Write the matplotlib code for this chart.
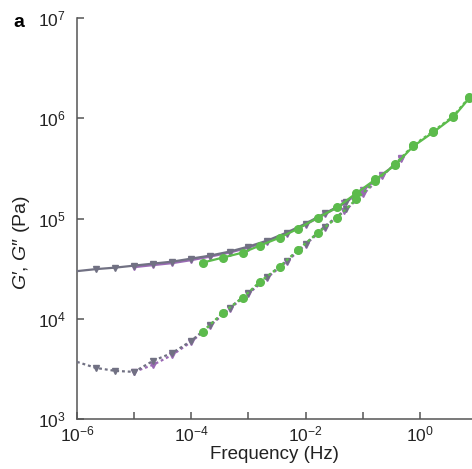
import numpy as np
import matplotlib
matplotlib.use("Agg")
import matplotlib.pyplot as plt
from matplotlib.ticker import FixedLocator, FuncFormatter, NullLocator

plt.rcParams['font.family'] = ['Liberation Sans', 'DejaVu Sans']
plt.rcParams['mathtext.fontset'] = 'custom'
plt.rcParams['mathtext.rm'] = 'Liberation Sans'
plt.rcParams['mathtext.it'] = 'Liberation Sans:italic'

# log10 of frequency (Hz) and moduli (Pa)
grey_f = [-6.0, -5.67, -5.33, -5.0, -4.67, -4.33, -4.0, -3.67, -3.33, -3.0, -2.67, -2.33, -2.0, -1.67, -1.3]
grey_g1 = [4.475, 4.495, 4.51, 4.53, 4.55, 4.57, 4.60, 4.63, 4.67, 4.72, 4.78, 4.86, 4.95, 5.05, 5.16]
grey_g2 = [3.57, 3.51, 3.48, 3.47, 3.58, 3.66, 3.78, 3.94, 4.11, 4.26, 4.42, 4.58, 4.75, 4.92, 5.09]

purple_f = [-5.0, -4.67, -4.33, -4.0, -3.67, -3.33, -3.0, -2.67, -2.33, -2.0, -1.67, -1.33, -1.0, -0.67, -0.33]
purple_g1 = [4.515, 4.535, 4.555, 4.585, 4.62, 4.66, 4.71, 4.77, 4.85, 4.94, 5.04, 5.15, 5.28, 5.43, 5.59]
purple_g2 = [3.47, 3.54, 3.64, 3.77, 3.93, 4.10, 4.25, 4.41, 4.57, 4.74, 4.91, 5.07, 5.24, 5.42, 5.60]

green_f = [-3.8, -3.45, -3.1, -2.8, -2.45, -2.13, -1.78, -1.45, -1.12, -0.78, -0.44, -0.12, 0.23, 0.58, 0.86]
green_g1 = [4.56, 4.61, 4.66, 4.73, 4.81, 4.90, 5.01, 5.11, 5.25, 5.39, 5.53, 5.72, 5.86, 6.01, 6.20]
green_g2 = [3.87, 4.06, 4.21, 4.37, 4.52, 4.69, 4.86, 5.01, 5.19, 5.37, 5.54, 5.73, 5.87, 6.02, 6.21]

GREY = '#717183'
PURPLE = '#9a6ab4'
GREEN = '#5cbb4c'

fig = plt.figure(figsize=(4.72, 4.69), dpi=100)
ax = fig.add_axes([0.163, 0.1066, 0.837, 0.855])

dotted = (0, (1.3, 1.3))


def series(f, g1, g2, color, marker, ms, start=0):
    f = 10 ** np.array(f)
    ax.plot(f, 10 ** np.array(g1), '-', color=color, lw=1.6, marker=marker, ms=ms,
            markevery=slice(start, None), zorder=3)
    ax.plot(f, 10 ** np.array(g2), linestyle=dotted, color=color, lw=1.6, marker=marker, ms=ms,
            markevery=slice(start, None), zorder=3)


series(purple_f, purple_g1, purple_g2, PURPLE, 'v', 5)
series(grey_f, grey_g1, grey_g2, GREY, 'v', 5, start=1)
series(green_f, green_g1, green_g2, GREEN, 'o', 5.5)

ax.set_xscale('log')
ax.set_yscale('log')
ax.set_xlim(1e-6, 10 ** 0.909)
ax.set_ylim(1e3, 1e7)

for s in ['top', 'right']:
    ax.spines[s].set_visible(False)
for s in ['left', 'bottom']:
    ax.spines[s].set_color('#555555')
    ax.spines[s].set_linewidth(1.1)

ax.xaxis.set_major_locator(FixedLocator([1e-6, 1e-5, 1e-4, 1e-3, 1e-2, 1e-1, 1e0]))
ax.xaxis.set_minor_locator(NullLocator())
ax.yaxis.set_major_locator(FixedLocator([1e3, 1e4, 1e5, 1e6, 1e7]))
ax.yaxis.set_minor_locator(NullLocator())


def xfmt(v, pos):
    e = int(round(np.log10(v)))
    if e % 2:
        return ''
    return r'$\mathregular{10^{%d}}$' % e


def yfmt(v, pos):
    e = int(round(np.log10(v)))
    return r'$\mathregular{10^{%d}}$' % e


ax.xaxis.set_major_formatter(FuncFormatter(xfmt))
ax.yaxis.set_major_formatter(FuncFormatter(yfmt))
ax.tick_params(direction='in', length=5, width=1.1, color='#555555', labelsize=12.5, labelcolor='#222222')
ax.tick_params(axis='x', pad=4)
ax.tick_params(axis='y', pad=8)

ax.set_xlabel('Frequency (Hz)', fontsize=13.5, color='#222222', labelpad=1)
ax.set_ylabel(r'$\it{G}$′, $\it{G}$″ (Pa)', fontsize=14, color='#222222')
ax.yaxis.set_label_coords(-0.115, 0.44)

fig.text(0.028, 0.951, 'a', fontsize=14, fontweight='bold', va='center', ha='left')

fig.savefig('out.png', dpi=100)
